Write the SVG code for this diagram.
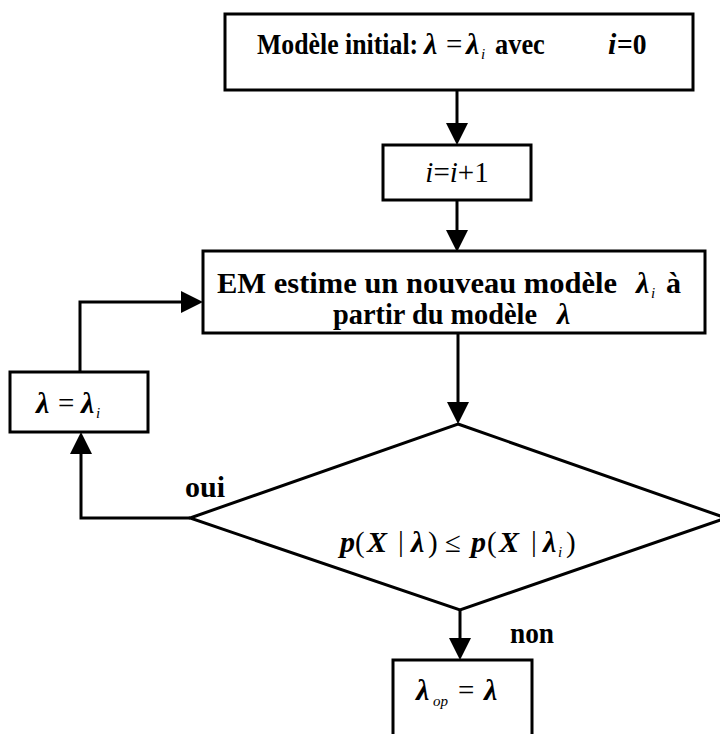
<svg xmlns="http://www.w3.org/2000/svg" width="720" height="734" viewBox="0 0 720 734">
  <defs>
    <style>
      .box { fill: #fff; stroke: #000; stroke-width: 3; }
      .wire { fill: none; stroke: #000; stroke-width: 3; marker-end: url(#ah); }
      .lbl { font-family: "Liberation Serif", "Times New Roman", serif; font-weight: bold; font-size: 30px; fill: #000; }
      .m { font-family: "Liberation Serif", "Times New Roman", serif; font-style: italic; font-weight: bold; font-size: 30px; fill: #000; }
      .r { font-family: "Liberation Serif", "Times New Roman", serif; font-size: 29px; fill: #000; }
      .sub { font-family: "Liberation Serif", "Times New Roman", serif; font-style: italic; font-size: 15px; fill: #000; }
    </style>
    <marker id="ah" markerUnits="userSpaceOnUse" markerWidth="22" markerHeight="22" viewBox="0 0 22 22" refX="12" refY="11" orient="auto">
      <path d="M0,0 L22,11 L0,22 z" fill="#000"/>
    </marker>
  </defs>
  <rect width="720" height="734" fill="#fff"/>

  <!-- connectors -->
  <g id="connectors">
    <line class="wire" x1="457" y1="90" x2="457" y2="135"/>
    <line class="wire" x1="457" y1="200" x2="457" y2="242"/>
    <line class="wire" x1="458" y1="333" x2="458" y2="414"/>
    <path class="wire" d="M190,518 H81 V442"/>
    <path class="wire" d="M80,372 V302 H193"/>
    <line class="wire" x1="460" y1="610" x2="460" y2="650"/>
  </g>

  <g id="init">
    <rect class="box" x="225" y="14" width="468" height="76"/>
    <text class="lbl" transform="translate(257 54) scale(0.86 1)">Modèle initial:</text>
    <text class="m" x="424" y="54">λ</text>
    <text class="r" x="446" y="54">=</text>
    <text class="m" x="466" y="54">λ</text>
    <text class="sub" x="481" y="59">i</text>
    <text class="lbl" transform="translate(495 54) scale(0.88 1)">avec</text>
    <text class="m" x="608" y="54" font-weight="normal">i</text>
    <text class="lbl" transform="translate(617 54) scale(0.92 1)">=0</text>
  </g>

  <g id="increment">
    <rect class="box" x="383" y="145" width="148" height="55"/>
    <text class="r" x="457" y="182" text-anchor="middle"><tspan font-style="italic">i</tspan>=<tspan font-style="italic">i</tspan>+1</text>
  </g>

  <g id="em">
    <rect class="box" x="203" y="251" width="502" height="82"/>
    <text class="lbl" x="217" y="293" textLength="400" lengthAdjust="spacingAndGlyphs">EM estime un nouveau modèle</text>
    <text class="m" x="636" y="293">λ</text>
    <text class="sub" x="651" y="298">i</text>
    <text class="lbl" x="666" y="293">à</text>
    <text class="lbl" x="333" y="324" textLength="204" lengthAdjust="spacingAndGlyphs">partir du modèle</text>
    <text class="m" x="557" y="324">λ</text>
  </g>

  <g id="update">
    <rect class="box" x="10" y="372" width="138" height="60"/>
    <text class="m" x="36" y="413">λ</text>
    <text class="r" x="58" y="413">=</text>
    <text class="m" x="81" y="413">λ</text>
    <text class="sub" x="96" y="418">i</text>
  </g>

  <g id="test">
    <polygon class="box" points="458,424 726,518 460,610 190,518"/>
    <text class="m" x="340" y="552">p</text>
    <text class="r" x="355" y="552" font-size="35">(</text>
    <text class="m" x="367" y="552">X</text>
    <text class="r" x="398" y="551" font-size="22">|</text>
    <text class="m" x="411" y="552">λ</text>
    <text class="r" x="428" y="552" font-size="35">)</text>
    <text class="r" x="445" y="552">≤</text>
    <text class="m" x="471" y="552">p</text>
    <text class="r" x="487" y="552" font-size="35">(</text>
    <text class="m" x="499" y="552">X</text>
    <text class="r" x="531" y="551" font-size="22">|</text>
    <text class="m" x="543" y="552">λ</text>
    <text class="sub" x="558" y="557">i</text>
    <text class="r" x="566" y="552" font-size="35">)</text>
  </g>

  <text id="oui" class="lbl" x="185" y="497" textLength="40" lengthAdjust="spacingAndGlyphs">oui</text>
  <text id="non" class="lbl" x="510" y="643" textLength="44" lengthAdjust="spacingAndGlyphs">non</text>

  <g id="result">
    <rect class="box" x="393" y="660" width="139" height="90"/>
    <text class="m" x="416" y="700">λ</text>
    <text class="sub" x="433" y="706">op</text>
    <text class="r" x="458" y="700">=</text>
    <text class="m" x="484" y="700">λ</text>
  </g>
</svg>
